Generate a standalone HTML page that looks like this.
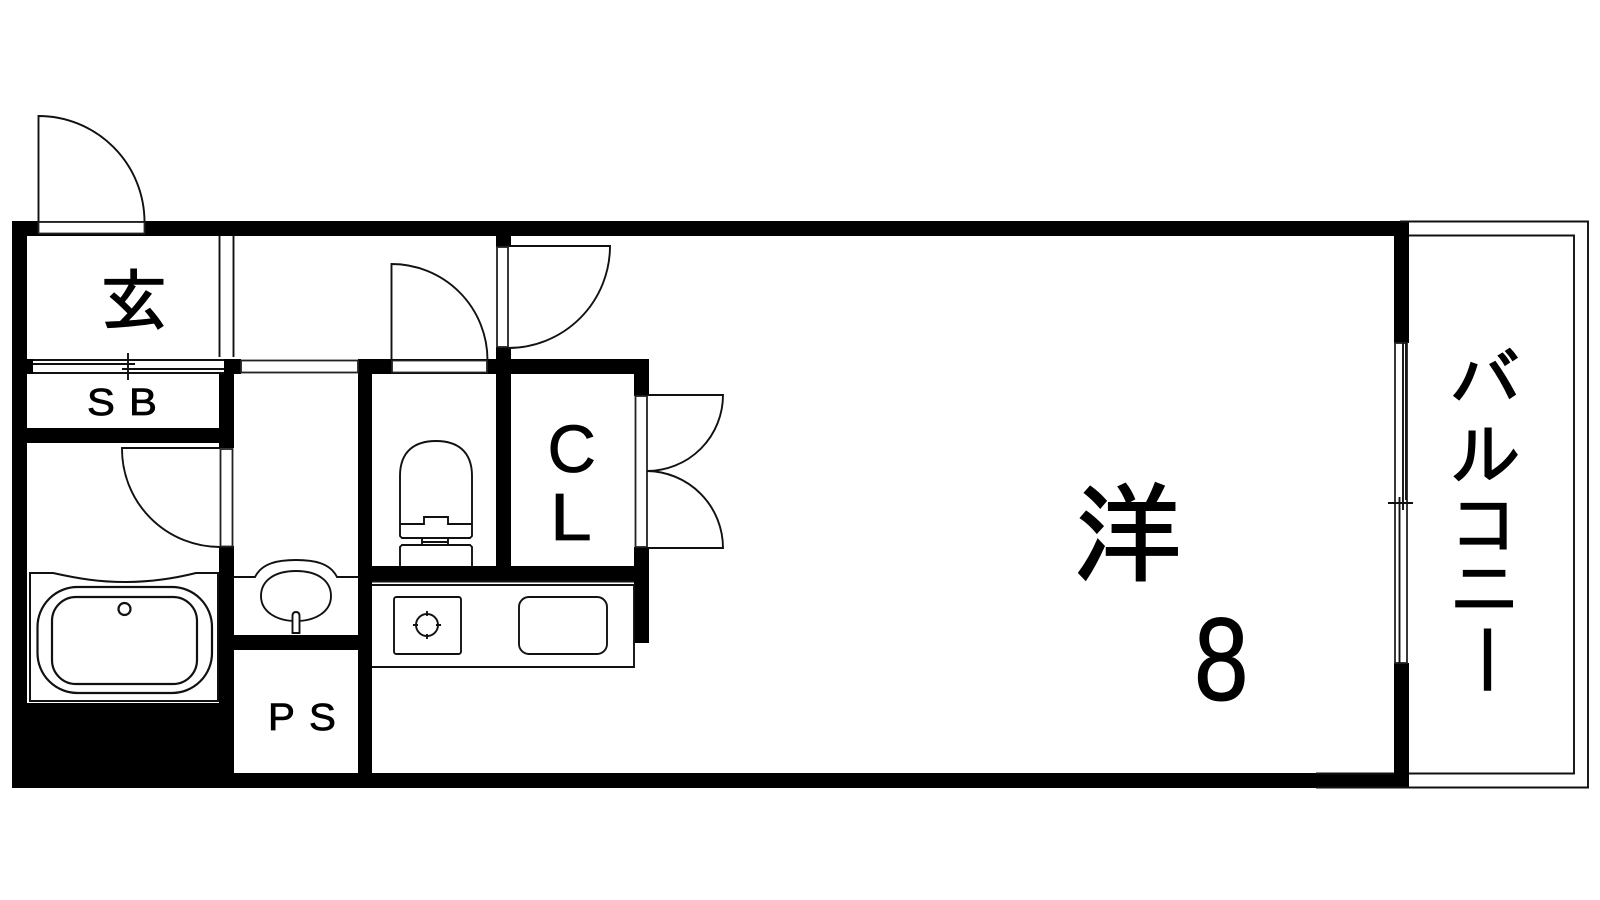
<!DOCTYPE html>
<html><head><meta charset="utf-8"><style>
html,body{margin:0;padding:0;background:#fff;width:1600px;height:900px;overflow:hidden}
svg{display:block}
text{fill:#000}
.j{font-family:"Liberation Sans","IPAGothic",sans-serif;stroke:#000}
.l{font-family:"Liberation Sans",sans-serif;stroke:#000;stroke-width:.8}
</style></head><body>
<svg width="1600" height="900" viewBox="0 0 1600 900" xmlns="http://www.w3.org/2000/svg">
<g fill="#000">
<rect x="12" y="221" width="1397" height="15"/>
<rect x="12" y="773" width="1397" height="15"/>
<rect x="12" y="221" width="15" height="567"/>
<rect x="12" y="703" width="222" height="85"/>
<rect x="27" y="359" width="6" height="15"/>
<rect x="224" y="359" width="17" height="15"/>
<rect x="219" y="373" width="15" height="75"/>
<rect x="27" y="428" width="207" height="15"/>
<rect x="219" y="546" width="15" height="160"/>
<rect x="234" y="635" width="124" height="15"/>
<rect x="358" y="359" width="14" height="429"/>
<rect x="358" y="359" width="291" height="15"/>
<rect x="496" y="236" width="15" height="11"/>
<rect x="496" y="347" width="15" height="219"/>
<rect x="372" y="566" width="277" height="15"/>
<rect x="634" y="359" width="15" height="37"/>
<rect x="634" y="547" width="15" height="96"/>
<rect x="1394" y="221" width="15" height="122"/>
<rect x="1394" y="663" width="15" height="125"/>
</g>
<g fill="#fff" stroke="#222" stroke-width="1.8">
<rect x="38.5" y="222" width="106" height="11.5"/>
<rect x="392" y="360.5" width="95" height="12"/>
<rect x="241" y="360.5" width="117" height="12"/>
<rect x="497" y="247" width="11" height="100"/>
<rect x="635.5" y="396" width="11.5" height="151"/>
<rect x="220.5" y="449" width="12" height="97.5"/>
<rect x="1395" y="343" width="12" height="320"/>
</g>
<g fill="none" stroke="#111" stroke-width="1.9">
<path d="M38.5 222V116A106 106 0 0 1 144.5 222"/>
<path d="M391.500 360V264A96 96 0 0 1 487.500 360"/>
<path d="M508 246H610A102 102 0 0 1 508 348"/>
<path d="M647 395H723A76 76 0 0 1 647 471A77 77 0 0 1 723 548H647"/>
<path d="M220 448H122A98 98 0 0 0 220 547"/>
<path d="M219.5 236V357M233.5 236V357"/>
<path d="M33 360H224M33 364H135M122 369H224M33 373H224M128 353V380"/>
<path d="M1400 221.500H1588V787.500H1316M1316 773.500H1394M1409 235.500H1574V773.500H1409"/>
<path d="M1399.500 497V663M1403 343V510M1406 343V500M1388 503H1413"/>
<path d="M234 577H255C262 563 278 560 296 560C314 560 330 563 337 577H358"/>
<path d="M296 571C318 571 331 581 331 596C331 612 315 621 296 621C277 621 261 612 261 596C261 581 274 571 296 571Z"/>
<path fill="#fff" d="M292.500 633V616Q292.500 612 296 612Q299.500 612 299.500 616V633Z"/>
<path d="M30 573H53C80 579 100 582 125 582C150 582 172 579 196 573H218V701H30Z" stroke-width="2"/>
<rect x="37.500" y="587" width="174.500" height="106" rx="40" ry="40" stroke-width="2.2"/>
<rect x="52" y="597" width="145" height="87" rx="24" ry="24" stroke-width="2.2"/>
<circle cx="124.500" cy="609" r="6" stroke-width="2.2"/>
<path d="M400 524V476C400 451 415 441 436 441C457 441 472 451 472 476V524H448V517H424V524H400M400 524V536L402 538H470L472 536V524M422 538V545H448V538M422 542H448M400 566V547L402 545H470L472 547V566"/>
<path d="M372 585H634V667H372M372 581.500H634"/>
<rect x="394" y="597" width="67" height="57" rx="2.500"/>
<rect x="519" y="597" width="88" height="57" rx="10"/>
<circle cx="427" cy="625" r="11"/>
<path d="M413 625H418M436 625H441M427 611V616M427 634V639"/>
</g>
<text class="j" x="100" y="325" font-size="68" stroke-width="1.4">玄</text>
<text class="j" x="1073" y="573" font-size="109" stroke-width="2">洋</text>
<text class="l" font-size="118" x="1194" y="700" transform="translate(1194 0) scale(.83 1) translate(-1194 0)" style="stroke-width:1">8</text>
<text class="l" x="547.500" y="472" font-size="67">C</text>
<text class="l" transform="translate(550 0) scale(1.12 1) translate(-550 0)" x="550" y="540" font-size="67">L</text>
<text class="l" transform="translate(87 0) scale(1.1 1) translate(-87 0)" x="87" y="415" font-size="38">S</text>
<text class="l" transform="translate(129 0) scale(1.1 1) translate(-129 0)" x="129" y="415" font-size="38">B</text>
<text class="l" transform="translate(268 0) scale(1.06 1) translate(-268 0)" x="268" y="730" font-size="38">P</text>
<text class="l" transform="translate(309 0) scale(1.06 1) translate(-309 0)" x="309" y="730" font-size="38">S</text>
<text class="j" font-size="71" stroke-width="1.4" text-anchor="middle" x="1485" y="406">バ</text>
<text class="j" font-size="71" stroke-width="1.4" text-anchor="middle" x="1486" y="480">ル</text>
<text class="j" font-size="71" stroke-width="1.4" text-anchor="middle" x="1485" y="550">コ</text>
<text class="j" font-size="71" stroke-width="1.4" text-anchor="middle" x="1484" y="614">ニ</text>
<text class="j" font-size="74" stroke-width="1.4" style="writing-mode:vertical-rl" x="1485" y="623">ー</text>
</svg>
</body></html>
